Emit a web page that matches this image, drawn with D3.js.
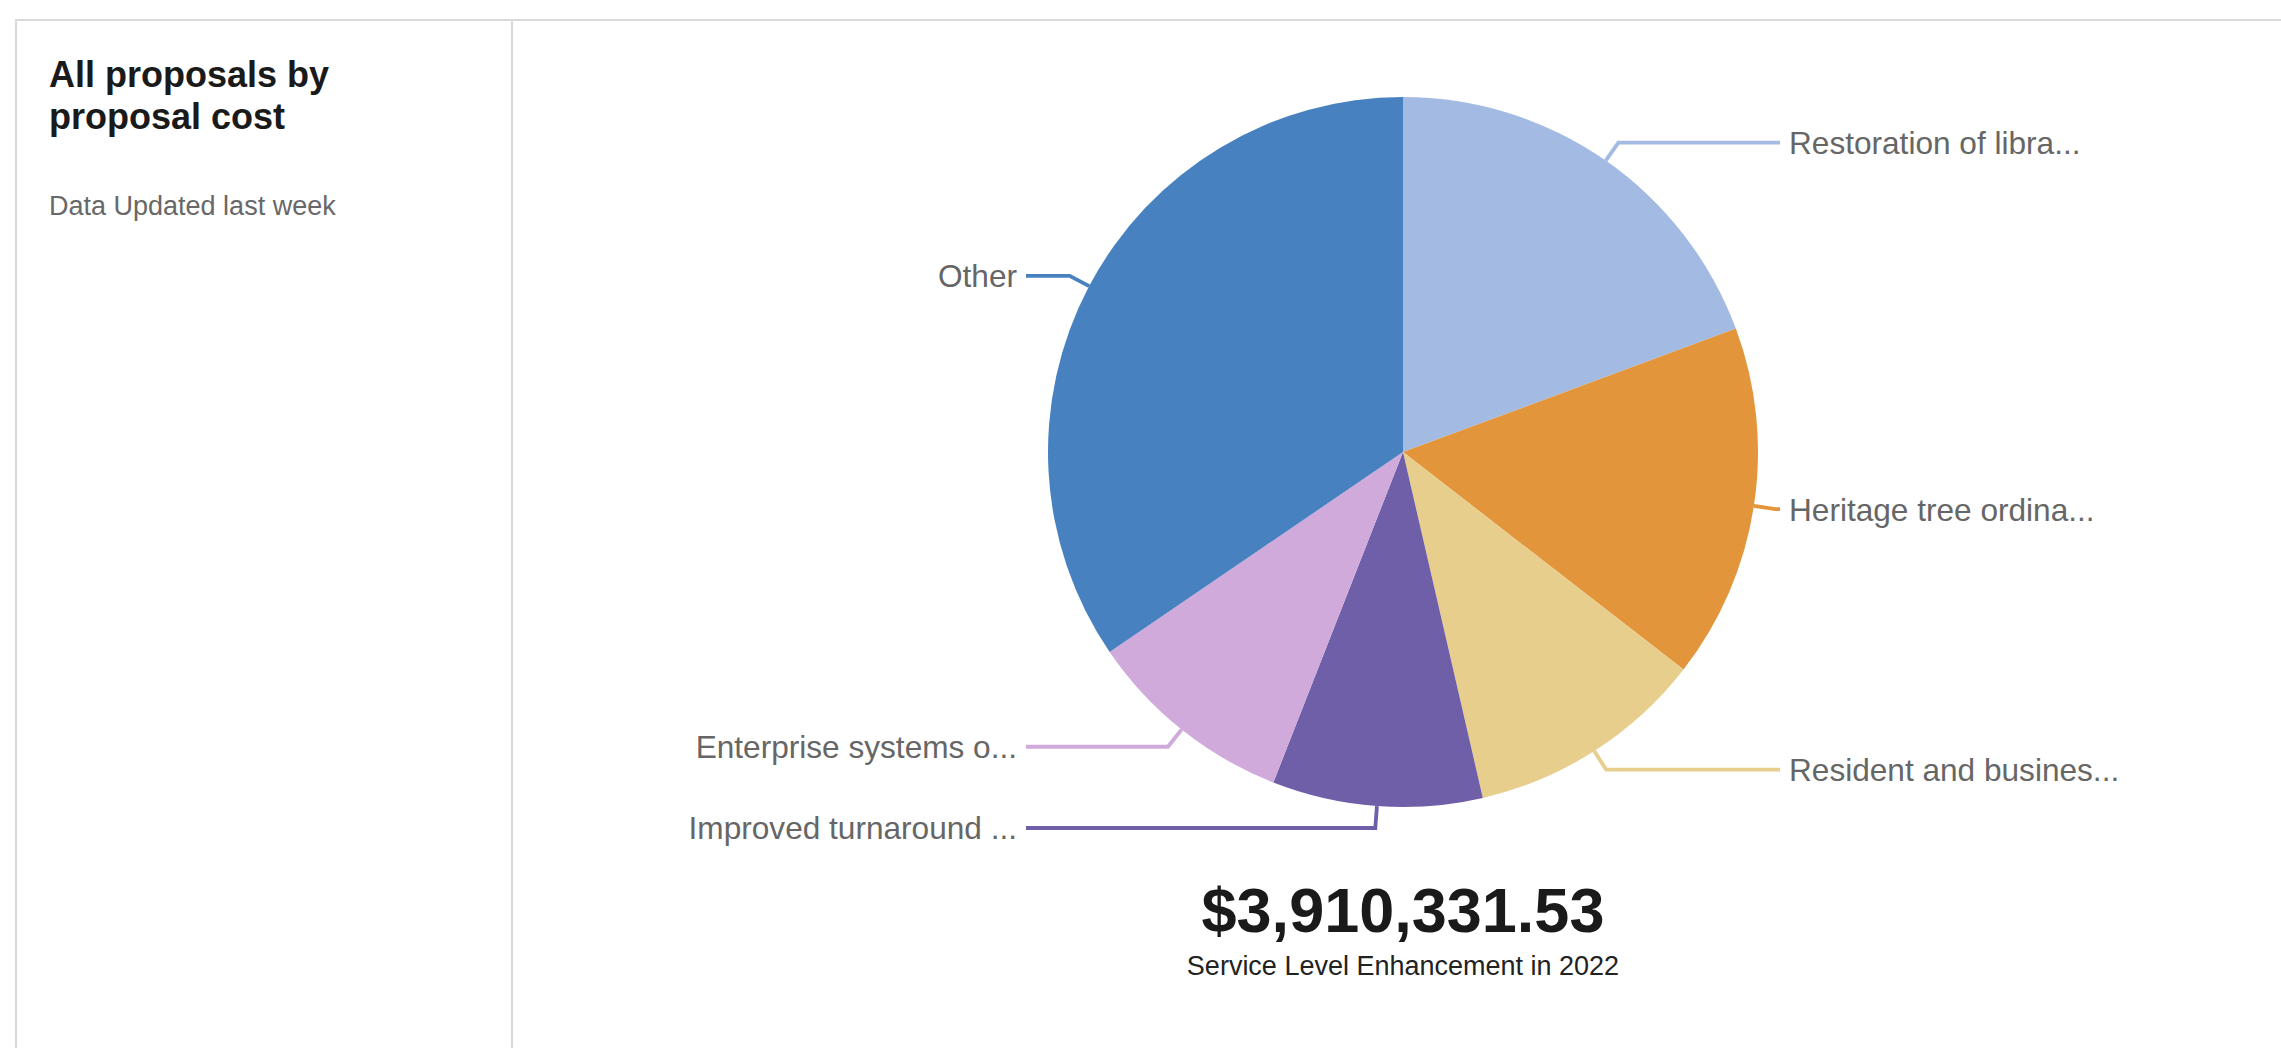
<!DOCTYPE html>
<html>
<head>
<meta charset="utf-8">
<script src="https://cdn.jsdelivr.net/npm/d3@7"></script>
<style>
  html, body { margin: 0; padding: 0; background: #fff; }
  svg { display: block; font-family: "Liberation Sans", Arial, Helvetica, sans-serif; }
</style>
</head>
<body>
<svg id="chart" width="2281" height="1048"></svg>
<script>
// Proposal cost by proposal (truncated names as shown on the card)
const categories = [
  "Restoration of libra...",
  "Heritage tree ordina...",
  "Resident and busines...",
  "Improved turnaround ...",
  "Enterprise systems o...",
  "Other"
];
const costs = [756650.00, 631520.00, 425840.00, 373830.00, 372650.00, 1349841.53];
const sliceColors = ["#a3bbe3", "#e3953b", "#e8ce8c", "#6f5ea8", "#cfaadb", "#4781c0"];

const cardTitle = ["All proposals by", "proposal cost"];
const cardSubtitle = "Data Updated last week";
const totalCaption = "Service Level Enhancement in 2022";

const data = categories.map((name, i) => ({ name, value: costs[i], color: sliceColors[i] }));

const svg = d3.select("#chart");

// Card frame and divider between the info panel and the chart panel
svg.append("rect")
  .attr("x", 16).attr("y", 20)
  .attr("width", 2400).attr("height", 1200)
  .attr("fill", "none")
  .attr("stroke", "#d9dadc")
  .attr("stroke-width", 2);
svg.append("line")
  .attr("x1", 512).attr("x2", 512)
  .attr("y1", 20).attr("y2", 1048)
  .attr("stroke", "#d9dadc")
  .attr("stroke-width", 2);

// Info panel
const titleText = svg.append("text")
  .attr("x", 49).attr("y", 87)
  .attr("font-size", 36)
  .attr("font-weight", "bold")
  .attr("fill", "#1a1a1a");
cardTitle.forEach((line, i) => {
  titleText.append("tspan").attr("x", 49).attr("dy", i === 0 ? 0 : 42).text(line);
});
svg.append("text")
  .attr("x", 49).attr("y", 215)
  .attr("font-size", 27)
  .attr("fill", "#686868")
  .text(cardSubtitle);

// Pie
const cx = 1403, cy = 452, radius = 355;
const elbowR = radius + 22;
const columnX = 377;

const pie = d3.pie().sort(null).value(d => d.value);
const arcs = pie(data);
const arc = d3.arc().innerRadius(0).outerRadius(radius);

const g = svg.append("g").attr("transform", `translate(${cx},${cy})`);

g.selectAll("path.slice")
  .data(arcs)
  .join("path")
  .attr("class", "slice")
  .attr("d", arc)
  .attr("fill", d => d.data.color);

// Label connectors: radial tick out of the slice, then horizontal to the label column
const pointAt = (a, r) => [r * Math.sin(a), -r * Math.cos(a)];

arcs.forEach(d => {
  const mid = (d.startAngle + d.endAngle) / 2;
  const right = Math.sin(mid) >= 0;
  const p0 = pointAt(mid, radius);
  const p1 = pointAt(mid, elbowR);
  const p2 = [right ? columnX : -columnX, p1[1]];

  g.append("path")
    .attr("d", d3.line()([p0, p1, p2]))
    .attr("fill", "none")
    .attr("stroke", d.data.color)
    .attr("stroke-width", 3.8);

  g.append("text")
    .attr("x", right ? columnX + 9 : -columnX - 9)
    .attr("y", p1[1])
    .attr("dy", "0.36em")
    .attr("text-anchor", right ? "start" : "end")
    .attr("font-size", 31.6)
    .attr("fill", "#666")
    .text(d.data.name);
});

// Total under the pie
const total = d3.sum(costs);
svg.append("text")
  .attr("x", cx).attr("y", 932)
  .attr("text-anchor", "middle")
  .attr("font-size", 63)
  .attr("font-weight", "bold")
  .attr("fill", "#1a1a1a")
  .text(d3.format("$,.2f")(total));
svg.append("text")
  .attr("x", cx).attr("y", 975)
  .attr("text-anchor", "middle")
  .attr("font-size", 27)
  .attr("fill", "#222")
  .text(totalCaption);
</script>
</body>
</html>
